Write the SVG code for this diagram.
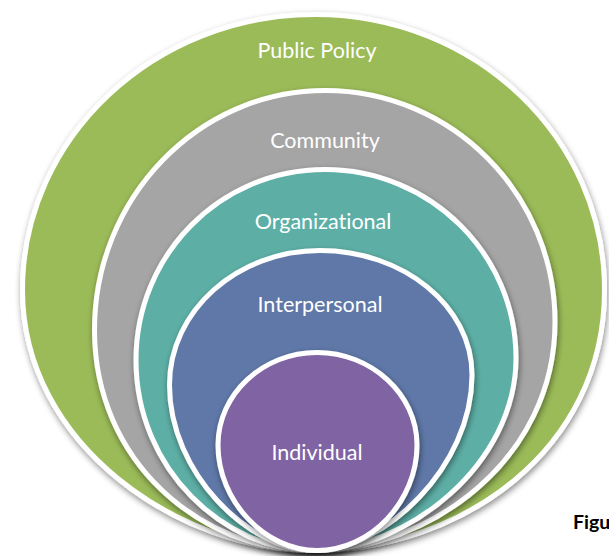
<svg xmlns="http://www.w3.org/2000/svg" width="609" height="556" viewBox="0 0 609 556">
  <defs>
    <filter id="sh" x="-10%" y="-10%" width="120%" height="125%">
      <feDropShadow dx="1" dy="3" stdDeviation="3" flood-color="#000" flood-opacity="0.45"/>
    </filter>
  </defs>
  <style>
    .ring { stroke: #ffffff; stroke-width: 5; filter: url(#sh); }
    .lbl { font-family: Lato, "Open Sans", "Liberation Sans", sans-serif; font-size: 21.5px; fill: #ffffff; text-anchor: middle; font-variant-ligatures: none; }
    .fig { font-family: Lato, "Liberation Sans", sans-serif; font-size: 19.5px; font-weight: bold; fill: #000000; }
  </style>
  <rect width="609" height="556" fill="#ffffff"/>
  <g id="public-policy">
    <path class="ring" fill="#9BBB59" d="M315,14.5 C476,14.5 604.5,138 604.5,290 C604.5,450 462,550.5 312,550.5 C181,550.5 22.5,446 22.5,290 C22.5,138 154,14.5 315,14.5 Z"/>
    <text class="lbl" x="317" y="58">Public Policy</text>
  </g>
  <g id="community">
    <path class="ring" fill="#A5A5A5" d="M325,90.5 C452,90.5 555,194 555,322 C555,459 431,550.5 311,550.5 C201,550.5 94.5,462 94.5,330 C94.5,198 198,90.5 325,90.5 Z"/>
    <text class="lbl" x="325" y="148">Community</text>
  </g>
  <g id="organizational">
    <path class="ring" fill="#5DAFA6" d="M325,169.5 C430,169.5 516,254 516,358 C516,464 408,550.5 313,550.5 C225,550.5 136,470 136,360 C136,255 220,169.5 325,169.5 Z"/>
    <text class="lbl" x="323" y="229">Organizational</text>
  </g>
  <g id="interpersonal">
    <path class="ring" fill="#5F78A8" d="M320,250.5 C403,250.5 472,306 472,375 C472,467 384,550.5 314,550.5 C249,550.5 169.5,473 169.5,385 C169.5,311 237,250.5 320,250.5 Z"/>
    <text class="lbl" x="320" y="312">Interpersonal</text>
  </g>
  <g id="individual">
    <path class="ring" fill="#8064A2" d="M317,352.5 C371,352.5 417,394 417,445 C417,502 370,550.5 317,550.5 C266,550.5 218,502 218,445 C218,394 263,352.5 317,352.5 Z"/>
    <text class="lbl" x="317" y="460">Individual</text>
  </g>
  <g id="connectors"/>
  <text class="fig" x="573" y="529">Figu</text>
</svg>
